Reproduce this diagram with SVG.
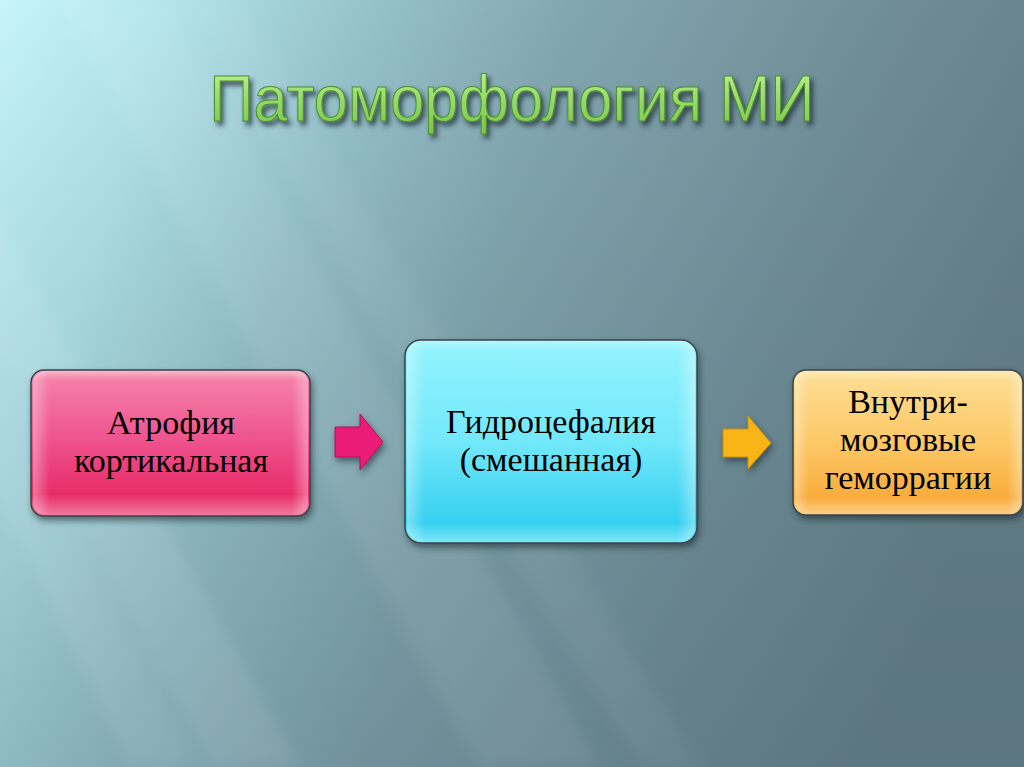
<svg xmlns="http://www.w3.org/2000/svg" width="1024" height="767" viewBox="0 0 1024 767">
<defs>
<linearGradient id="bg" gradientUnits="userSpaceOnUse" x1="0" y1="0" x2="1024" y2="300">
<stop offset="0" stop-color="#c6f4fa"/>
<stop offset="0.15" stop-color="#b2e4ec"/>
<stop offset="0.32" stop-color="#98c4cd"/>
<stop offset="0.52" stop-color="#82a6af"/>
<stop offset="0.78" stop-color="#718f99"/>
<stop offset="1" stop-color="#66808a"/>
</linearGradient>
<linearGradient id="bgv" x1="0" y1="0" x2="0" y2="1">
<stop offset="0" stop-color="#3c5560" stop-opacity="0"/>
<stop offset="1" stop-color="#3c5560" stop-opacity="0.25"/>
</linearGradient>
<filter id="blur" x="-20%" y="-20%" width="140%" height="140%"><feGaussianBlur stdDeviation="8"/></filter>
<filter id="shadow" x="-10%" y="-10%" width="125%" height="130%"><feDropShadow dx="2" dy="4" stdDeviation="3" flood-color="#1a2a30" flood-opacity="0.6"/></filter>
<filter id="tshadow" x="-5%" y="-20%" width="110%" height="150%"><feDropShadow dx="3" dy="4" stdDeviation="2.5" flood-color="#1c2a2e" flood-opacity="0.75"/></filter>
<linearGradient id="tg" x1="0" y1="0" x2="0" y2="1">
<stop offset="0" stop-color="#c0f59a"/>
<stop offset="0.5" stop-color="#96dc68"/>
<stop offset="1" stop-color="#78c448"/>
</linearGradient>
<linearGradient id="pink" x1="0" y1="0" x2="0" y2="1">
<stop offset="0" stop-color="#fbbdd2"/>
<stop offset="0.07" stop-color="#f47ea6"/>
<stop offset="0.45" stop-color="#ef5690"/>
<stop offset="0.85" stop-color="#e82c6a"/>
<stop offset="1" stop-color="#f27ca2"/>
</linearGradient>
<linearGradient id="cyan" x1="0" y1="0" x2="0" y2="1">
<stop offset="0" stop-color="#b4f8fe"/>
<stop offset="0.06" stop-color="#90f2fd"/>
<stop offset="0.5" stop-color="#72e8fa"/>
<stop offset="0.9" stop-color="#36d0f0"/>
<stop offset="1" stop-color="#80e8fa"/>
</linearGradient>
<linearGradient id="orange" x1="0" y1="0" x2="0" y2="1">
<stop offset="0" stop-color="#feebba"/>
<stop offset="0.08" stop-color="#fddb8e"/>
<stop offset="0.5" stop-color="#fcc866"/>
<stop offset="0.88" stop-color="#f8ac3c"/>
<stop offset="1" stop-color="#fbd08a"/>
</linearGradient>
<linearGradient id="side" x1="0" y1="0" x2="1" y2="0">
<stop offset="0" stop-color="#ffffff" stop-opacity="0.35"/>
<stop offset="0.06" stop-color="#ffffff" stop-opacity="0"/>
<stop offset="0.94" stop-color="#ffffff" stop-opacity="0"/>
<stop offset="1" stop-color="#ffffff" stop-opacity="0.35"/>
</linearGradient>
<style>
.box{stroke:#3a4448;stroke-width:1.5;}
.lbl{font-family:"Liberation Serif","Times New Roman",serif;font-size:34px;fill:#000;text-anchor:middle;}
.arrow{stroke-width:1;filter:url(#shadow);}
</style>
</defs>

<g id="background">
<rect width="1024" height="767" fill="url(#bg)"/>
<rect width="1024" height="767" fill="url(#bgv)"/>
<g filter="url(#blur)" fill="#ffffff">
<polygon points="60,0 170,0 600,767 480,767" opacity="0.07"/>
<polygon points="-120,150 -40,150 300,767 210,767" opacity="0.09"/>
<polygon points="180,0 240,0 700,767 640,767" opacity="0.05"/>
<polygon points="-60,380 0,380 200,767 130,767" opacity="0.08"/>
</g>
</g>

<g id="title" filter="url(#tshadow)">
<text x="512" y="121" text-anchor="middle" textLength="605" lengthAdjust="spacingAndGlyphs" font-family="'Liberation Sans',Arial,sans-serif" font-size="64" fill="url(#tg)" stroke="#4f8c2e" stroke-width="1">Патоморфология МИ</text>
</g>

<g id="connectors">
<polygon class="arrow" points="335,427 360,427 360,414 383,442 360,470 360,457 335,457" fill="#ea1a78" stroke="#b0105a"/>
<polygon class="arrow" points="723,429 748,429 748,416 771,443 748,469 748,457 723,457" fill="#f9b418" stroke="#c88a08"/>
</g>

<g id="node-atrophy">
<rect class="box" x="31" y="370" width="279" height="146" rx="13" fill="url(#pink)" filter="url(#shadow)"/>
<rect x="33" y="372" width="275" height="142" rx="11" fill="url(#side)"/>
<text class="lbl" x="171" y="434">Атрофия</text>
<text class="lbl" x="171" y="472">кортикальная</text>
</g>

<g id="node-hydro">
<rect class="box" x="405" y="340" width="292" height="203" rx="16" fill="url(#cyan)" filter="url(#shadow)"/>
<rect x="407" y="342" width="288" height="199" rx="14" fill="url(#side)"/>
<text class="lbl" x="551" y="433">Гидроцефалия</text>
<text class="lbl" x="551" y="471">(смешанная)</text>
</g>

<g id="node-hemorrhage">
<rect class="box" x="793" y="370" width="230" height="145" rx="13" fill="url(#orange)" filter="url(#shadow)"/>
<rect x="795" y="372" width="226" height="141" rx="11" fill="url(#side)"/>
<text class="lbl" x="908" y="413">Внутри-</text>
<text class="lbl" x="908" y="451">мозговые</text>
<text class="lbl" x="908" y="489">геморрагии</text>
</g>
</svg>
